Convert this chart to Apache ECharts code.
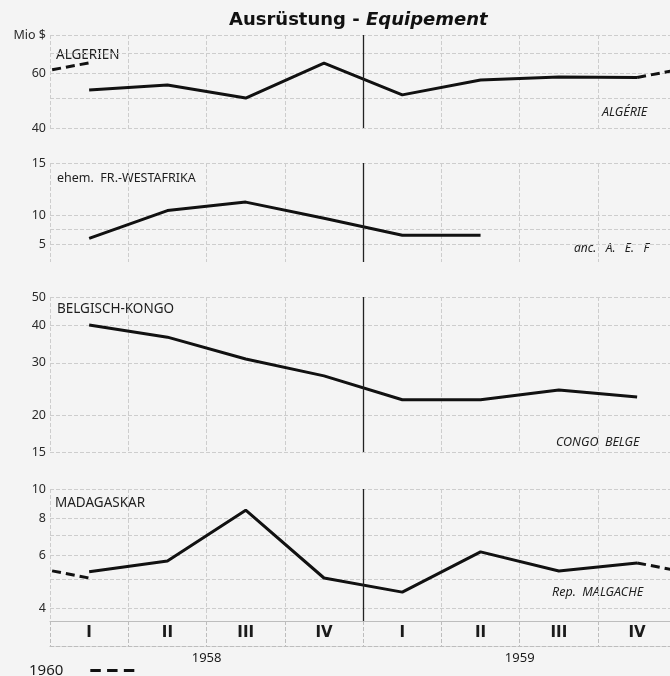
<!DOCTYPE html>
<html>
<head>
<meta charset="utf-8">
<title>Ausrüstung - Equipement</title>
<script src="https://cdn.jsdelivr.net/npm/echarts@6/dist/echarts.min.js"></script>
<style>
  html, body { margin: 0; padding: 0; background: #f4f4f4; }
  #chart { width: 670px; height: 676px; }
</style>
</head>
<body>
<div id="chart"></div>
<script>
// Quartale 1958 / 1959
const quarters = ['I', 'II', 'III', 'IV', 'I', 'II', 'III', 'IV'];
const years = ['1958', '1959'];

// Mio $ je Quartal
const algerien = [53.1, 55.1, 50.0, 64.9, 51.2, 57.2, 58.5, 58.3];
const algerien1960 = 65.0;
const westafrika = [8.4, 10.4, 11.1, 9.8, 8.6, 8.6];
const kongo = [40.2, 36.6, 30.9, 27.1, 22.5, 22.5, 24.3, 23.0];
const madagaskar = [5.3, 5.75, 8.5, 5.05, 4.53, 6.17, 5.33, 5.67];
const madagaskar1960 = 5.05;

// Skalen (logarithmisch) und Beschriftungen, wie gedruckt
const algRange = [40, 80];
const algGrid = [40, 50, 60, 70, 80];
const algTicks = [80, 60, 40];
const algTickText = ['Mio $', '60', '40'];

const wafRange = [7, 15];
const wafGrid = [8, 9, 10, 15];
const wafTicks = [15, 10, 8];
const wafTickText = ['15', '10', '5'];   // so im Original gedruckt

const konRange = [15, 50];
const konGrid = [15, 20, 30, 40, 50];
const konTicks = [50, 40, 30, 20, 15];
const konTickText = ['50', '40', '30', '20', '15'];

const madRange = [3.63, 10];
const madGrid = [4, 5, 6, 7, 8, 10];
const madTicks = [10, 8, 6, 4];
const madTickText = ['10', '8', '6', '4'];

const chart = echarts.init(document.getElementById('chart'));

const FONT = 'Noto Sans';
const gridColor = '#cdcdcd';

// x = Quartalsmitte (0.5, 1.5, ...)
function toPoints(values, start) {
  return values.map((v, i) => [start + i + 0.5, v]);
}

function labelFor(ticks, texts) {
  return function (v) {
    let best = 0;
    ticks.forEach((t, i) => {
      if (Math.abs(t - v) < Math.abs(ticks[best] - v)) best = i;
    });
    return texts[best];
  };
}

const grids = [
  { left: 50, right: 0, top: 35, height: 93 },
  { left: 50, right: 0, top: 163, height: 99 },
  { left: 50, right: 0, top: 297, height: 155 },
  { left: 50, right: 0, top: 489, height: 132 }
];

const panels = [
  { range: algRange, grid: algGrid, ticks: algTicks, text: algTickText },
  { range: wafRange, grid: wafGrid, ticks: wafTicks, text: wafTickText },
  { range: konRange, grid: konGrid, ticks: konTicks, text: konTickText },
  { range: madRange, grid: madGrid, ticks: madTicks, text: madTickText }
];

const xAxes = grids.map((g, i) => ({
  type: 'value',
  gridIndex: i,
  min: 0,
  max: 7.92,
  interval: 1,
  axisLine: { show: i === 3, lineStyle: { color: '#bdbdbd' } },
  axisTick: i === 3
    ? { show: true, inside: false, length: 25, customValues: [0, 1, 2, 3, 4, 5, 6, 7], lineStyle: { color: '#bdbdbd', type: 'dashed' } }
    : { show: false },
  axisLabel: i === 3
    ? {
        show: true,
        customValues: quarters.map((q, k) => k + 0.5),
        formatter: v => quarters[Math.floor(v)],
        margin: 5,
        fontFamily: 'DejaVu Sans',
        fontWeight: 'bold',
        fontSize: 15,
        color: '#1a1a1a'
      }
    : { show: false },
  splitLine: { show: true, lineStyle: { color: gridColor, type: 'dashed' } }
}));

// Jahreszeile unter den Quartalen
xAxes.push({
  type: 'value',
  gridIndex: 3,
  min: 0,
  max: 7.92,
  position: 'bottom',
  offset: 25,
  axisLine: { show: true, lineStyle: { color: '#bdbdbd', type: 'dashed' } },
  axisTick: { show: false },
  splitLine: { show: false },
  axisLabel: {
    customValues: [2, 6],
    formatter: v => years[v < 4 ? 0 : 1],
    margin: 6,
    fontFamily: FONT,
    fontSize: 13,
    color: '#1a1a1a'
  }
});

const yAxes = panels.map((p, i) => ({
  type: 'log',
  logBase: 10,
  gridIndex: i,
  min: p.range[0],
  max: p.range[1],
  axisLine: { show: false },
  axisTick: { show: false, customValues: p.grid },
  splitLine: { show: true, lineStyle: { color: gridColor, type: 'dashed' } },
  axisLabel: {
    customValues: p.ticks,
    formatter: labelFor(p.ticks, p.text),
    margin: 4,
    fontFamily: FONT,
    fontSize: 12.5,
    color: '#2a2a2a'
  }
}));

const solid = { color: '#111', width: 3 };
const dashed = { color: '#111', width: 3, type: [9, 5] };

function mainSeries(idx, values) {
  return {
    type: 'line',
    xAxisIndex: idx,
    yAxisIndex: idx,
    data: toPoints(values, 0),
    symbol: 'none',
    lineStyle: solid,
    z: 3,
    markLine: {
      silent: true,
      symbol: 'none',
      label: { show: false },
      lineStyle: { color: '#222', type: 'solid', width: 1.3 },
      data: [{ xAxis: 4 }]
    }
  };
}

// 1960: Verbindung IV/1959 -> I/1960, links wiederholt
function series1960(idx, values, v1960) {
  const last = values[values.length - 1];
  const base = {
    name: '1960', type: 'line', xAxisIndex: idx, yAxisIndex: idx,
    symbol: 'none', lineStyle: dashed, itemStyle: { color: '#111' }, z: 2
  };
  return [
    Object.assign({}, base, { data: [[-0.5, last], [0.5, v1960]] }),
    Object.assign({}, base, { data: [[7.5, last], [8.5, v1960]] })
  ];
}

function txt(x, y, text, opts) {
  return {
    type: 'text',
    left: x,
    top: y,
    style: Object.assign({
      text: text,
      fill: '#1e1e1e',
      font: '13.5px "Noto Sans"'
    }, opts || {})
  };
}

const italic = { font: 'italic 12.5px "Noto Sans"' };

const option = {
  backgroundColor: '#f4f4f4',
  animation: false,
  title: {
    left: 224,
    top: 6,
    text: '{a|Ausrüstung - }{b|Equipement}',
    textStyle: {
      rich: {
        a: { fontFamily: 'DejaVu Sans', fontWeight: 'bold', fontSize: 18, color: '#111' },
        b: { fontFamily: 'DejaVu Sans', fontWeight: 'bold', fontStyle: 'italic', fontSize: 18, color: '#111' }
      }
    }
  },
  legend: {
    left: 24,
    top: 658,
    align: 'right',
    itemWidth: 44,
    itemHeight: 4,
    data: [{ name: '1960', icon: 'path://M0,0h10v3h-10z M16,0h10v3h-10z M32,0h10v3h-10z' }],
    textStyle: { fontFamily: FONT, fontSize: 15, color: '#1a1a1a', padding: [0, 22, 0, 0] }
  },
  grid: grids,
  xAxis: xAxes,
  yAxis: yAxes,
  graphic: [
    txt(56, 48, 'ALGERIEN'),
    txt(602, 106, 'ALGÉRIE', italic),
    txt(57, 172, 'ehem.  FR.-WESTAFRIKA', { font: '12.5px "Noto Sans"' }),
    txt(574, 243, 'anc.   A.   E.   F', { font: 'italic 12px "Noto Sans"' }),
    txt(57, 302, 'BELGISCH-KONGO'),
    txt(556, 436, 'CONGO  BELGE', italic),
    txt(55, 496, 'MADAGASKAR'),
    txt(552, 586, 'Rep.  MALGACHE', italic)
  ],
  series: [
    mainSeries(0, algerien),
    ...series1960(0, algerien, algerien1960),
    mainSeries(1, westafrika),
    mainSeries(2, kongo),
    mainSeries(3, madagaskar),
    ...series1960(3, madagaskar, madagaskar1960)
  ]
};

chart.setOption(option);
</script>
</body>
</html>
